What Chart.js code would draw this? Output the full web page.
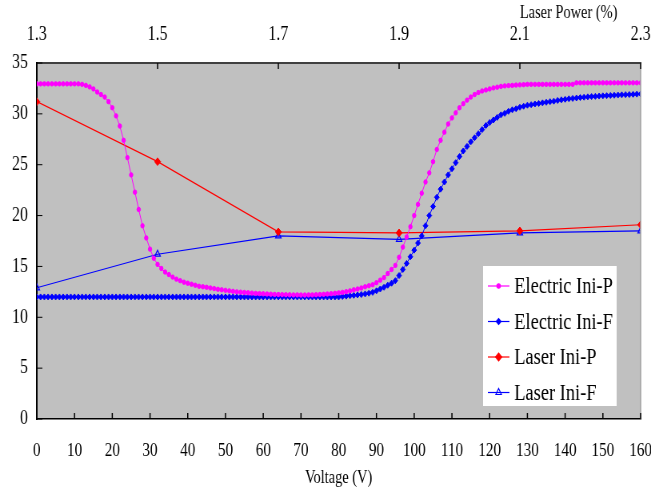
<!DOCTYPE html>
<html>
<head>
<meta charset="utf-8">
<script src="https://cdn.jsdelivr.net/npm/chart.js@4/dist/chart.umd.min.js"></script>
<style>
  html, body { margin: 0; padding: 0; background: #fff; }
  canvas { display: block; }
</style>
</head>
<body>
<!-- drawn wider, then squeezed to 651px to get the narrow serif look of the original -->
<canvas id="chart" width="814" height="492" style="width:651px;height:492px"></canvas>
<script>
const voltage = [
  0, 1, 2, 3, 4, 5, 6, 7, 8, 9, 10, 11, 12, 13, 14, 15, 16, 17, 18, 19,
  20, 21, 22, 23, 24, 25, 26, 27, 28, 29, 30, 31, 32, 33, 34, 35, 36, 37, 38, 39,
  40, 41, 42, 43, 44, 45, 46, 47, 48, 49, 50, 51, 52, 53, 54, 55, 56, 57, 58, 59,
  60, 61, 62, 63, 64, 65, 66, 67, 68, 69, 70, 71, 72, 73, 74, 75, 76, 77, 78, 79,
  80, 81, 82, 83, 84, 85, 86, 87, 88, 89, 90, 91, 92, 93, 94, 95, 96, 97, 98, 99,
  100, 101, 102, 103, 104, 105, 106, 107, 108, 109, 110, 111, 112, 113, 114, 115, 116, 117, 118, 119,
  120, 121, 122, 123, 124, 125, 126, 127, 128, 129, 130, 131, 132, 133, 134, 135, 136, 137, 138, 139,
  140, 141, 142, 143, 144, 145, 146, 147, 148, 149, 150, 151, 152, 153, 154, 155, 156, 157, 158, 159,
  160
];

const electricIniP = [
  32.95, 32.95, 32.95, 32.95, 32.95, 32.95, 32.95, 32.95, 32.95, 32.95,
  32.95, 32.95, 32.9, 32.8, 32.65, 32.45, 32.15, 31.9, 31.65, 31.2,
  30.6, 29.8, 28.8, 27.4, 25.7, 24.0, 22.3, 20.6, 19.0, 17.8,
  16.7, 15.8, 15.2, 14.8, 14.45, 14.2, 13.95, 13.75, 13.6, 13.45,
  13.35, 13.25, 13.15, 13.05, 13.0, 12.95, 12.88, 12.82, 12.75, 12.7,
  12.65, 12.6, 12.55, 12.5, 12.47, 12.44, 12.41, 12.38, 12.35, 12.33,
  12.31, 12.29, 12.27, 12.25, 12.24, 12.23, 12.22, 12.21, 12.2, 12.2,
  12.19, 12.19, 12.2, 12.2, 12.22, 12.24, 12.26, 12.29, 12.32, 12.36,
  12.4, 12.45, 12.52, 12.6, 12.7, 12.78, 12.88, 13.0, 13.1, 13.2,
  13.4, 13.65, 13.9, 14.3, 14.7, 15.1, 15.9, 16.9, 17.9, 18.9,
  20.0, 21.1, 22.2, 23.3, 24.2, 25.3, 26.5, 27.4, 28.2, 29.0,
  29.6, 30.1, 30.6, 31.0, 31.35, 31.65, 31.9, 32.1, 32.25, 32.35,
  32.45, 32.55, 32.62, 32.7, 32.75, 32.78, 32.8, 32.83, 32.85, 32.87,
  32.9, 32.9, 32.9, 32.9, 32.9, 32.9, 32.9, 32.9, 32.9, 32.9,
  32.9, 32.9, 32.9, 33.05, 33.05, 33.05, 33.05, 33.05, 33.05, 33.05,
  33.05, 33.05, 33.05, 33.05, 33.05, 33.05, 33.05, 33.05, 33.05, 33.05,
  33.05
];

const electricIniF = [
  12.0, 12.0, 12.0, 12.0, 12.0, 12.0, 12.0, 12.0, 12.0, 12.0,
  12.0, 12.0, 12.0, 12.0, 12.0, 12.0, 12.0, 12.0, 12.0, 12.0,
  12.0, 12.0, 12.0, 12.0, 12.0, 12.0, 12.0, 12.0, 12.0, 12.0,
  12.0, 12.0, 12.0, 12.0, 12.0, 12.0, 12.0, 12.0, 12.0, 12.0,
  12.0, 12.0, 12.0, 12.0, 12.0, 12.0, 12.0, 12.0, 12.0, 12.0,
  12.0, 12.0, 12.0, 12.0, 12.0, 12.0, 12.0, 12.0, 12.0, 12.0,
  12.0, 12.0, 12.0, 12.0, 12.0, 12.0, 12.0, 12.0, 12.0, 12.0,
  12.0, 12.0, 12.0, 12.0, 12.0, 12.0, 12.0, 12.0, 12.0, 12.0,
  12.0, 12.05, 12.08, 12.12, 12.16, 12.2, 12.24, 12.3, 12.37, 12.45,
  12.6, 12.78, 12.95, 13.15, 13.35, 13.6, 14.1, 14.7, 15.3, 15.95,
  16.6, 17.3, 18.0, 19.0, 20.0, 20.9, 21.8, 22.6, 23.3, 24.0,
  24.6, 25.2, 25.8, 26.35, 26.8, 27.25, 27.65, 28.05, 28.45, 28.85,
  29.15, 29.4, 29.65, 29.9, 30.05, 30.25, 30.4, 30.5, 30.65, 30.75,
  30.85, 30.9, 30.97, 31.02, 31.08, 31.14, 31.2, 31.25, 31.32, 31.38,
  31.43, 31.48, 31.52, 31.56, 31.6, 31.64, 31.67, 31.7, 31.72, 31.75,
  31.77, 31.79, 31.81, 31.83, 31.85, 31.87, 31.89, 31.9, 31.92, 31.94,
  31.96
];

const laserPower = [1.3, 1.5, 1.7, 1.9, 2.1, 2.3];
const laserIniP = [31.2, 25.3, 18.4, 18.3, 18.5, 19.1];
const laserIniF = [12.9, 16.2, 18.0, 17.65, 18.3, 18.5];

const voltageTicks = [0, 10, 20, 30, 40, 50, 60, 70, 80, 90, 100, 110, 120, 130, 140, 150, 160];
const yTicks = [0, 5, 10, 15, 20, 25, 30, 35];

const serif = "'Liberation Serif', 'Times New Roman', serif";

// grey plot area, inside tick marks, light right edge, top title and the boxed legend
const frame = {
  id: 'frame',
  beforeDraw(chart) {
    const { ctx, chartArea: a } = chart;
    ctx.save();
    ctx.fillStyle = '#C0C0C0';
    ctx.fillRect(a.left, a.top, a.right - a.left, a.bottom - a.top);
    ctx.restore();
  },
  afterDraw(chart) {
    const { ctx, chartArea: a } = chart;
    const sx = chart.scales.x, sx2 = chart.scales.x2, sy = chart.scales.y;
    ctx.save();

    ctx.strokeStyle = '#A0A0A0';
    ctx.lineWidth = 1.5;
    ctx.beginPath();
    ctx.moveTo(a.right, a.top);
    ctx.lineTo(a.right, a.bottom);
    ctx.stroke();

    ctx.strokeStyle = '#000';
    ctx.lineWidth = 1.5;
    ctx.beginPath();
    sx.ticks.forEach(t => {
      const px = sx.getPixelForValue(t.value);
      ctx.moveTo(px, a.bottom);
      ctx.lineTo(px, a.bottom - 6);
    });
    sx2.ticks.forEach(t => {
      const px = sx2.getPixelForValue(t.value);
      ctx.moveTo(px, a.top);
      ctx.lineTo(px, a.top + 6);
    });
    ctx.stroke();
    ctx.lineWidth = 1;
    ctx.beginPath();
    sy.ticks.forEach(t => {
      const py = sy.getPixelForValue(t.value);
      ctx.moveTo(a.left, py);
      ctx.lineTo(a.left + 7, py);
    });
    ctx.stroke();

    ctx.fillStyle = '#000';
    ctx.font = '18px ' + serif;
    ctx.textAlign = 'right';
    ctx.textBaseline = 'middle';
    ctx.fillText('Laser Power (%)', 772, 13);

    // legend
    const box = { left: 604, top: 266, right: 771, bottom: 406 };
    ctx.fillStyle = '#fff';
    ctx.fillRect(box.left, box.top, box.right - box.left, box.bottom - box.top);
    ctx.font = '23px ' + serif;
    ctx.textAlign = 'left';
    chart.data.datasets.forEach((ds, i) => {
      const y = 286 + i * 35.5;
      ctx.strokeStyle = ds.borderColor;
      ctx.lineWidth = 1.2;
      ctx.beginPath();
      ctx.moveTo(610, y);
      ctx.lineTo(637, y);
      ctx.stroke();
      ctx.fillStyle = ds.pointBackgroundColor;
      Chart.helpers.drawPoint(ctx, {
        pointStyle: ds.pointStyle,
        radius: ds.pointRadius,
        rotation: 0,
        borderWidth: ds.pointBorderWidth
      }, 623.5, y);
      ctx.fillStyle = '#000';
      ctx.fillText(ds.label, 643, y + 1);
    });
    ctx.restore();
  }
};

const byVoltage = vals => voltage.map((v, i) => ({ x: v, y: vals[i] }));
const byPower = vals => laserPower.map((p, i) => ({ x: p, y: vals[i] }));

new Chart(document.getElementById('chart'), {
  type: 'line',
  data: {
    datasets: [
      {
        label: 'Electric Ini-P',
        data: byVoltage(electricIniP),
        xAxisID: 'x',
        borderColor: '#FF00FF',
        pointBackgroundColor: '#FF00FF',
        pointBorderColor: '#FF00FF',
        pointStyle: 'circle',
        pointRadius: 2.2,
        pointBorderWidth: 1,
        borderWidth: 1
      },
      {
        label: 'Electric Ini-F',
        data: byVoltage(electricIniF),
        xAxisID: 'x',
        borderColor: '#0000FF',
        pointBackgroundColor: '#0000FF',
        pointBorderColor: '#0000FF',
        pointStyle: 'rectRot',
        pointRadius: 3,
        pointBorderWidth: 1,
        borderWidth: 1
      },
      {
        label: 'Laser Ini-P',
        data: byPower(laserIniP),
        xAxisID: 'x2',
        borderColor: '#FF0000',
        pointBackgroundColor: '#FF0000',
        pointBorderColor: '#FF0000',
        pointStyle: 'rectRot',
        pointRadius: 3.8,
        pointBorderWidth: 1,
        borderWidth: 1.2
      },
      {
        label: 'Laser Ini-F',
        data: byPower(laserIniF),
        xAxisID: 'x2',
        borderColor: '#0000FF',
        pointBackgroundColor: 'rgba(0,0,0,0)',
        pointBorderColor: '#0000FF',
        pointStyle: 'triangle',
        pointRadius: 4,
        pointBorderWidth: 1.2,
        borderWidth: 1.2
      }
    ]
  },
  options: {
    responsive: false,
    animation: false,
    layout: { padding: { left: 0, right: 13, top: 0, bottom: 0 } },
    plugins: { legend: { display: false }, tooltip: { enabled: false } },
    elements: { line: { tension: 0 } },
    scales: {
      x: {
        type: 'linear',
        position: 'bottom',
        min: 0,
        max: 160,
        afterBuildTicks: s => { s.ticks = voltageTicks.map(v => ({ value: v })); },
        ticks: { font: { family: serif, size: 19 }, color: '#000', padding: 21, maxRotation: 0, autoSkip: false },
        grid: { display: false, drawTicks: false },
        border: { color: '#000', width: 1.5 },
        title: { display: true, text: 'Voltage (V)', color: '#000', font: { family: serif, size: 18 }, padding: { top: 3, bottom: 3 } },
        afterFit: s => { s.height = 73; s.paddingLeft = 0; s.paddingRight = 0; }
      },
      x2: {
        type: 'linear',
        position: 'top',
        min: 1.3,
        max: 2.3,
        afterBuildTicks: s => { s.ticks = laserPower.map(v => ({ value: v })); },
        ticks: { font: { family: serif, size: 20 }, color: '#000', padding: 16, maxRotation: 0, autoSkip: false, callback: v => v.toFixed(1) },
        grid: { display: false, drawTicks: false },
        border: { color: '#404040', width: 2 },
        afterFit: s => { s.height = 63; s.paddingLeft = 0; s.paddingRight = 0; }
      },
      y: {
        type: 'linear',
        position: 'left',
        min: 0,
        max: 35,
        afterBuildTicks: s => { s.ticks = yTicks.map(v => ({ value: v })); },
        ticks: { font: { family: serif, size: 20 }, color: '#000', padding: 11 },
        grid: { display: false, drawTicks: false },
        border: { color: '#000', width: 2 },
        afterFit: s => { s.width = 46; s.paddingTop = 0; s.paddingBottom = 0; }
      }
    }
  },
  plugins: [frame]
});
</script>
</body>
</html>
